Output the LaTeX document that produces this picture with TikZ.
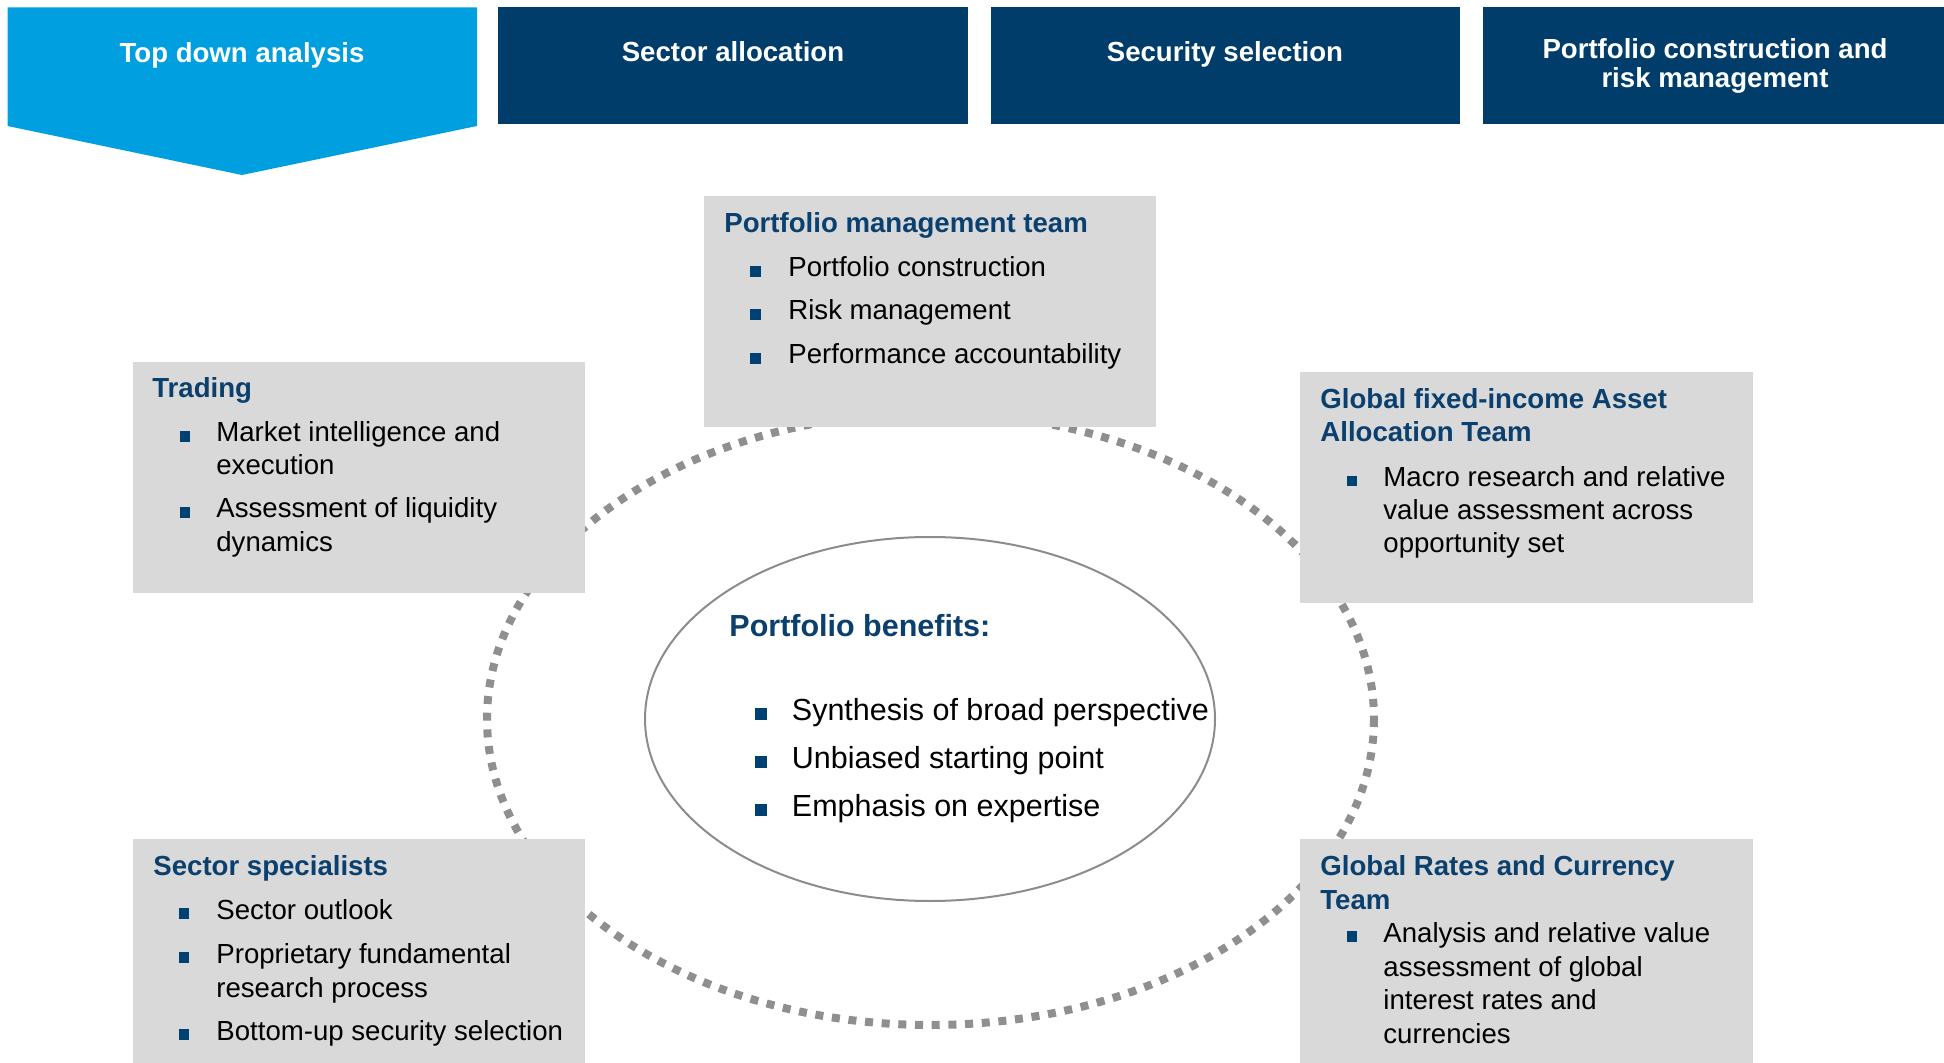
\documentclass[tikz,border=0pt]{standalone}
\usepackage{fontspec}
\setmainfont{Liberation Sans}
\definecolor{navy}{HTML}{003D6B}
\definecolor{skyb}{HTML}{009FDF}
\definecolor{boxgray}{HTML}{D9D9D9}
\definecolor{titleblue}{HTML}{0A3F6E}
\definecolor{bulblue}{HTML}{004173}
\definecolor{dotgray}{HTML}{8F8F8F}
\definecolor{ringgray}{HTML}{8C8C8C}
\begin{document}
\begin{tikzpicture}[x=0.5pt,y=-0.5pt,
  hdrbox/.style={fill=navy, draw=none, inner sep=0, minimum height=58.2pt},
  gbox/.style={fill=boxgray, draw=none, inner sep=0, minimum width=226pt},
  hdrtxt/.style={text=white, inner sep=0, anchor=base, font=\fontsize{13.8pt}{16pt}\selectfont\bfseries},
  ttl/.style={text=titleblue, inner sep=0, anchor=base west, font=\fontsize{13.8pt}{16pt}\selectfont\bfseries},
  body/.style={text=black, inner sep=0, anchor=base west, font=\fontsize{13.8pt}{16pt}\selectfont},
  bul/.style={fill=bulblue, draw=none, inner sep=0, minimum size=5.2pt, anchor=south},
  ettl/.style={text=titleblue, inner sep=0, anchor=base west, font=\fontsize{15.25pt}{18pt}\selectfont\bfseries},
  ebody/.style={text=black, inner sep=0, anchor=base west, font=\fontsize{15.25pt}{18pt}\selectfont},
  ebul/.style={fill=bulblue, draw=none, inner sep=0, minimum size=5.6pt, anchor=south},
]
\useasboundingbox (0,0) rectangle (1944,1063);

% header row
\fill[skyb] (7.5,7.3) -- (477,7.3) -- (477,126) -- (242,175) -- (7.5,126) -- cycle;
\node[hdrtxt] (h1t) at (242,63) {Top down analysis};
\node[hdrbox, minimum width=235pt] (h2) at (733,65.5) {};
\node[hdrtxt] (h2t) at (733,62) {Sector allocation};
\node[hdrbox, minimum width=234.75pt] (h3) at (1225.25,65.5) {};
\node[hdrtxt] (h3t) at (1225,62) {Security selection};
\node[hdrbox, minimum width=230.5pt] (h4) at (1713,65.5) {};
\node[hdrtxt] (h4a) at (1715,59) {Portfolio construction and};
\node[hdrtxt] (h4b) at (1715,88) {risk management};

% dotted ring
\draw[dotgray, line width=4pt, dash pattern=on 4pt off 4.35pt] (930.5,719) ellipse [x radius=443.5, y radius=306];

% grey boxes
\node[gbox, minimum height=115.5pt] (pm) at (930,311.5) {};
\node[gbox, minimum height=115.5pt] (trading) at (359,477.5) {};
\node[gbox, minimum height=115.5pt, minimum width=226.5pt] (gfi) at (1526.5,487.5) {};
\node[gbox, minimum height=112.5pt] (sector) at (359,951.5) {};
\node[gbox, minimum height=112.5pt, minimum width=226.5pt] (rates) at (1526.5,951.5) {};

% portfolio management team
\node[ttl] (pmt) at (724,233) {Portfolio management team};
\node[bul] (pmb1) at (755.5,277) {};
\node[body] (pm1) at (788,277) {Portfolio construction};
\node[bul] (pmb2) at (755.5,320) {};
\node[body] (pm2) at (788,320) {Risk management};
\node[bul] (pmb3) at (755.5,364) {};
\node[body] (pm3) at (788,364) {Performance accountability};

% trading
\node[ttl] (trt) at (152,398) {Trading};
\node[bul] (trb1) at (185,442) {};
\node[body] (tr1) at (216,442) {Market intelligence and};
\node[body] (tr2) at (216,475) {execution};
\node[bul] (trb2) at (185,518) {};
\node[body] (tr3) at (216,518) {Assessment of liquidity};
\node[body] (tr4) at (216,552) {dynamics};

% global fixed income
\node[ttl] (gfit1) at (1320,409) {Global fixed-income Asset};
\node[ttl] (gfit2) at (1320,442) {Allocation Team};
\node[bul] (gfib1) at (1352,486.5) {};
\node[body] (gfi1) at (1383,486.5) {Macro research and relative};
\node[body] (gfi2) at (1383,519.5) {value assessment across};
\node[body] (gfi3) at (1383,553) {opportunity set};

% sector specialists
\node[ttl] (sst) at (153,875) {Sector specialists};
\node[bul] (ssb1) at (184,919) {};
\node[body] (ss1) at (216,919) {Sector outlook};
\node[bul] (ssb2) at (184,963) {};
\node[body] (ss2) at (216,963) {Proprietary fundamental};
\node[body] (ss3) at (216,997) {research process};
\node[bul] (ssb3) at (184,1040) {};
\node[body] (ss4) at (216,1040) {Bottom-up security selection};

% global rates
\node[ttl] (grt1) at (1320,875) {Global Rates and Currency};
\node[ttl] (grt2) at (1320,909) {Team};
\node[bul] (grb1) at (1352,942) {};
\node[body] (gr1) at (1383,942) {Analysis and relative value};
\node[body] (gr2) at (1383,976) {assessment of global};
\node[body] (gr3) at (1383,1009.5) {interest rates and};
\node[body] (gr4) at (1383,1043) {currencies};

% centre ellipse
\draw[ringgray, line width=1pt] (930,719) ellipse [x radius=285, y radius=182];
\node[ettl] (pbt) at (729,637) {Portfolio benefits:};
\node[ebul] (pbb1) at (761,720) {};
\node[ebody] (pb1) at (791.5,720) {Synthesis of broad perspective};
\node[ebul] (pbb2) at (761,768) {};
\node[ebody] (pb2) at (791.5,768) {Unbiased starting point};
\node[ebul] (pbb3) at (761,816) {};
\node[ebody] (pb3) at (791.5,816) {Emphasis on expertise};
\end{tikzpicture}
\end{document}
